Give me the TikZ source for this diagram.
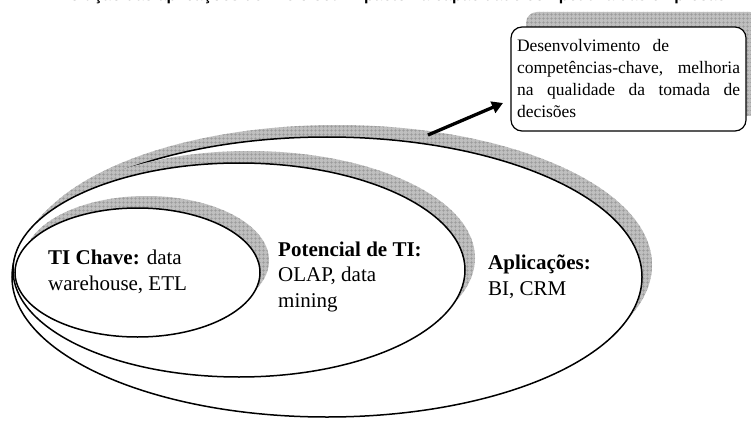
\documentclass[tikz,border=0pt]{standalone}
\usepackage{fontspec}
\setmainfont{Liberation Serif}
\setsansfont{Liberation Sans}
\usetikzlibrary{patterns.meta,arrows.meta}

\begin{document}
\begin{tikzpicture}[x=1pt,y=-1pt,
  band/.style={fill=gray!50,
    postaction={pattern={Hatch[angle=0,distance=4pt,line width=0.5pt]}, pattern color=black!40}},
  ring/.style={draw=black, line width=1.5pt, fill=white},
  lbl/.style={anchor=base west, inner sep=0pt, align=left,
    font=\fontsize{21}{25.5}\selectfont},
  goalbox/.style={draw=black, line width=1.2pt, rounded corners=11pt, fill=white,
    minimum width=235pt, minimum height=104pt, text width=223pt, inner sep=0pt,
    align=justify, font=\fontsize{17.5}{22}\selectfont},
  pointer/.style={line width=3.3pt, -{Triangle[length=11pt,width=12pt]}},
]
\useasboundingbox (0,0) rectangle (751,422);
\clip (0,0) rectangle (751,422);

% heading, mostly above the frame
\node[anchor=base west, inner sep=0pt, font=\sffamily\bfseries\fontsize{16}{19}\selectfont]
  (title) at (50,1) {Evolução das aplicações de TI e o seu impacto na capacidade competitiva das empresas};

% outer ring: applications
\fill[band, shift={(10,-12)}] (327,277) ellipse [x radius=315pt, y radius=140pt];
\path[ring] (327,277) ellipse [x radius=315pt, y radius=140pt];

% middle ring: IT potential
\fill[band, shift={(10,-12)}] (239,270) ellipse [x radius=226pt, y radius=107pt];
\path[ring] (239,270) ellipse [x radius=226pt, y radius=107pt];

% inner ring: key IT
\fill[band, shift={(9,-12)}] (137.5,272.5) ellipse [x radius=122.5pt, y radius=64.5pt];
\path[ring] (137.5,272.5) ellipse [x radius=122.5pt, y radius=64.5pt];

% labels, placed by the baseline of their last line
\node[lbl] (core) at (48,290) {\textbf{TI Chave:} data\\warehouse, ETL};
\node[lbl] (potential) at (278,307) {\textbf{Potencial de TI:}\\OLAP, data\\mining};
\node[lbl] (apps) at (488,295) {\textbf{Aplicações:}\\BI, CRM};

% outcome box with its raised shadow
\fill[band, rounded corners=11pt] (526,12) rectangle (761,116);
\node[goalbox] (goal) at (628.5,79)
  {Desenvolvimento\hspace{0.45em} de\\ competências-chave, melhoria\linebreak na qualidade da tomada de\linebreak decisões};

\coordinate (tail) at (428,135);
\coordinate (tip) at (503,103);
\draw[pointer] (tail) -- (tip);
\end{tikzpicture}
\end{document}
